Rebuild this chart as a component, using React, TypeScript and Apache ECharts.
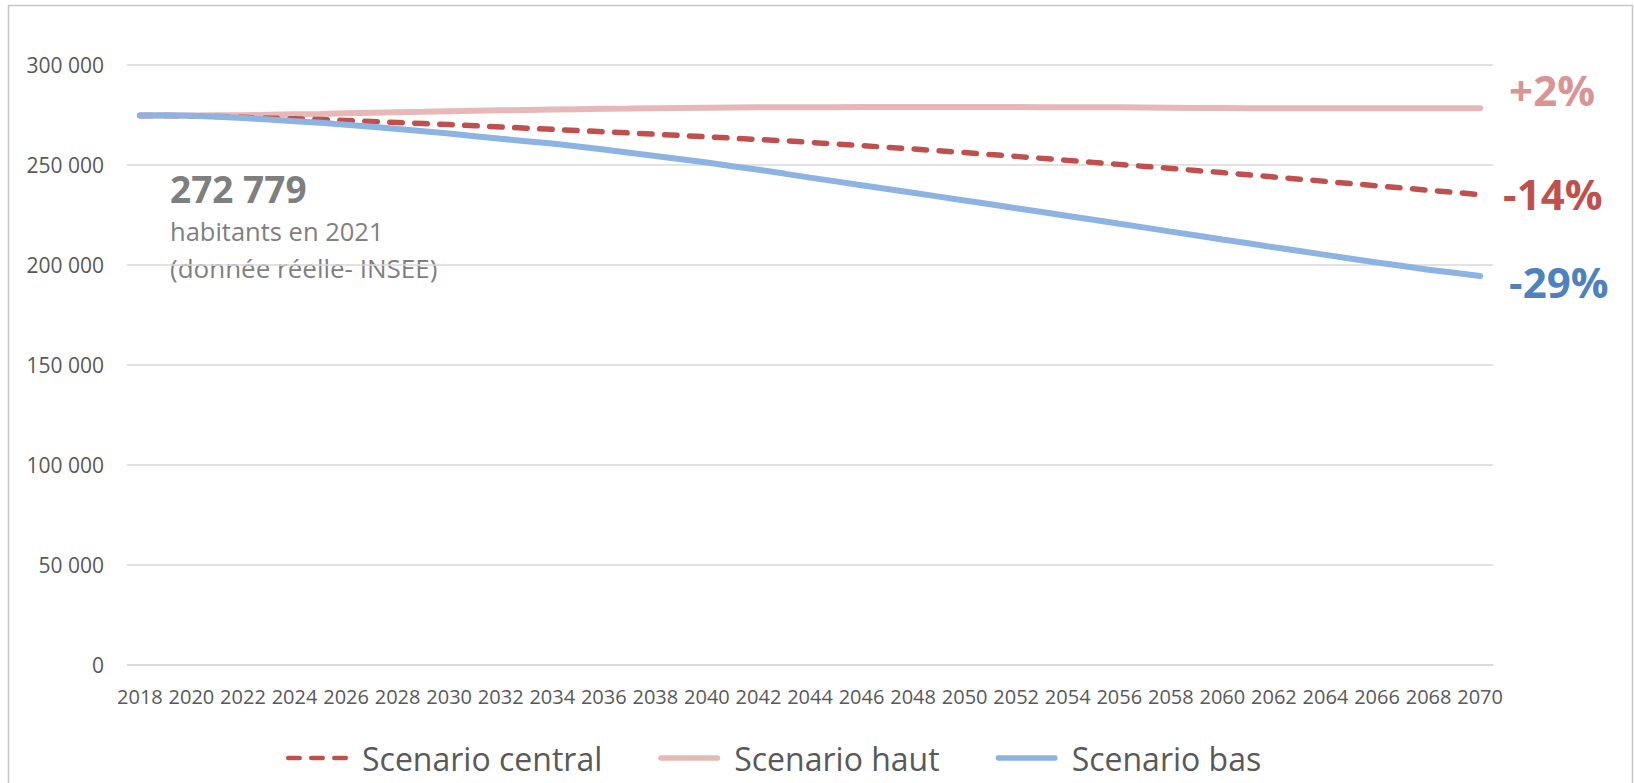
import React, { useEffect, useRef } from "react";
import * as echarts from "echarts";

const years = [
  "2018", "2019", "2020", "2021", "2022", "2023", "2024", "2025", "2026", "2027",
  "2028", "2029", "2030", "2031", "2032", "2033", "2034", "2035", "2036", "2037",
  "2038", "2039", "2040", "2041", "2042", "2043", "2044", "2045", "2046", "2047",
  "2048", "2049", "2050", "2051", "2052", "2053", "2054", "2055", "2056", "2057",
  "2058", "2059", "2060", "2061", "2062", "2063", "2064", "2065", "2066", "2067",
  "2068", "2069", "2070",
];

const scenarioCentral = [
  274500, 274500, 274300, 274000, 273600, 273200, 272900, 272500, 272000, 271500,
  271000, 270500, 270000, 269400, 268800, 268200, 267600, 267000, 266400, 265800,
  265200, 264500, 263900, 263200, 262500, 261900, 261100, 260300, 259500, 258600,
  257800, 256900, 256000, 255000, 254100, 253100, 252100, 251100, 250100, 249100,
  248100, 247000, 246000, 244900, 243800, 242700, 241600, 240500, 239400, 238300,
  237200, 236100, 235000,
];

const scenarioHaut = [
  274500, 274500, 274500, 274600, 274700, 274900, 275100, 275300, 275600, 275900,
  276200, 276400, 276700, 276900, 277100, 277300, 277500, 277700, 277900, 278000,
  278200, 278300, 278400, 278500, 278600, 278600, 278700, 278700, 278800, 278800,
  278800, 278800, 278800, 278800, 278800, 278700, 278700, 278600, 278600, 278500,
  278400, 278300, 278300, 278200, 278200, 278100, 278100, 278100, 278100, 278100,
  278100, 278200, 278200,
];

const scenarioBas = [
  274500, 274600, 274400, 273900, 273300, 272500, 271700, 270900, 269900, 268900,
  267800, 266700, 265500, 264200, 262900, 261700, 260500, 259000, 257500, 255900,
  254300, 252700, 251000, 249200, 247400, 245500, 243500, 241600, 239700, 237800,
  235900, 234000, 232100, 230200, 228200, 226300, 224300, 222400, 220400, 218500,
  216500, 214600, 212600, 210700, 208700, 206800, 204900, 203000, 201100, 199300,
  197500, 196000, 194300,
];

const seriesNames = ["Scenario central", "Scenario haut", "Scenario bas"];
const endLabels = ["-14%", "+2%", "-29%"];
const populationValue = "272 779";
const populationCaption = ["habitants en 2021", "(donnée réelle- INSEE)"];

const FONT = '"Open Sans", "Noto Sans", sans-serif';

const dash = (x0: number) =>
  `M${x0 + 2.5},0 H${x0 + 15.5} A2.5,2.5 0 0 1 ${x0 + 15.5},5 H${x0 + 2.5} A2.5,2.5 0 0 1 ${x0 + 2.5},0 Z`;
const DASHED_ICON = "path://" + dash(0) + " " + dash(26) + " " + dash(52);
const SOLID_ICON = "path://M3,0 H67 A3,3 0 0 1 67,6 H3 A3,3 0 0 1 3,0 Z";

function fmt(v: number): string {
  return String(v).replace(/\B(?=(\d{3})+(?!\d))/g, " ");
}

export default function App() {
  const ref = useRef<HTMLDivElement>(null);

  useEffect(() => {
    if (!ref.current) return;
    const chart = echarts.init(ref.current, undefined, { renderer: "svg" });
    const endLabel = (text: string, color: string, offset: number[]) => ({
      show: true,
      formatter: () => text,
      color,
      fontSize: 42,
      fontWeight: "bold",
      fontFamily: FONT,
      distance: 0,
      offset,
    });
    const textEl = (text: string, x: number, y: number, font: string) => ({
      type: "text",
      x,
      y,
      silent: true,
      style: {
        text,
        font,
        fill: "#7f7f7f",
        align: "left",
        verticalAlign: "middle",
        textAlign: "left",
        textVerticalAlign: "middle",
      },
    });
    chart.setOption({
      animation: false,
      backgroundColor: "#ffffff",
      grid: { left: 127, right: 141, top: 64.5, bottom: 118, containLabel: false },
      xAxis: {
        type: "category",
        data: years,
        boundaryGap: true,
        axisLine: { show: true, lineStyle: { color: "#d9d9d9", width: 1.5 } },
        axisTick: { show: false },
        axisLabel: {
          interval: 1,
          margin: 21,
          color: "#595959",
          fontSize: 20,
          fontFamily: FONT,
        },
        splitLine: { show: false },
      },
      yAxis: {
        type: "value",
        min: 0,
        max: 300000,
        interval: 50000,
        axisLine: { show: false },
        axisTick: { show: false },
        axisLabel: {
          margin: 23,
          color: "#595959",
          fontSize: 21,
          fontFamily: FONT,
          formatter: (v: number) => fmt(v),
        },
        splitLine: { show: true, lineStyle: { color: "#d9d9d9", width: 1.5 } },
      },
      legend: {
        data: [
          { name: seriesNames[0], icon: DASHED_ICON },
          { name: seriesNames[1], icon: SOLID_ICON },
          { name: seriesNames[2], icon: SOLID_ICON },
        ],
        left: 281,
        top: 737,
        itemWidth: 62,
        itemHeight: 6,
        itemGap: 56,
        textStyle: {
          color: "#595959",
          fontSize: 32,
          fontFamily: FONT,
          padding: [0, 0, 0, 9],
        },
      },
      series: [
        {
          name: seriesNames[0],
          type: "line",
          data: scenarioCentral,
          symbol: "none",
          showSymbol: false,
          z: 2,
          lineStyle: { color: "#c0504d", width: 5.5, type: [12.5, 12.5], cap: "round" },
          itemStyle: { color: "#c0504d" },
          endLabel: endLabel(endLabels[0], "#c0504d", [23, -1.5]),
        },
        {
          name: seriesNames[1],
          type: "line",
          data: scenarioHaut,
          symbol: "none",
          showSymbol: false,
          z: 1,
          lineStyle: { color: "#e6b9b8", width: 6, cap: "round" },
          itemStyle: { color: "#e6b9b8" },
          endLabel: endLabel(endLabels[1], "#d99594", [29, -18.6]),
        },
        {
          name: seriesNames[2],
          type: "line",
          data: scenarioBas,
          symbol: "none",
          showSymbol: false,
          z: 3,
          lineStyle: { color: "#8db3e2", width: 6, cap: "round" },
          itemStyle: { color: "#8db3e2" },
          endLabel: endLabel(endLabels[2], "#4f81bd", [29, 5]),
        },
      ],
      graphic: [
        {
          type: "rect",
          silent: true,
          z: -10,
          shape: { x: 8.5, y: 5.5, width: 1624, height: 800 },
          style: { fill: "none", stroke: "#c6c6c6", lineWidth: 1.5 },
        },
        textEl(populationValue, 170, 188, 'bold 37px "Open Sans", sans-serif'),
        textEl(populationCaption[0], 170, 230.5, '25.5px "Open Sans", sans-serif'),
        textEl(populationCaption[1], 170, 268, '26px "Open Sans", sans-serif'),
      ],
    });
    return () => chart.dispose();
  }, []);

  return (
    <div
      ref={ref}
      style={{ position: "fixed", left: 0, top: 0, width: 1634, height: 783, background: "#fff" }}
    />
  );
}
